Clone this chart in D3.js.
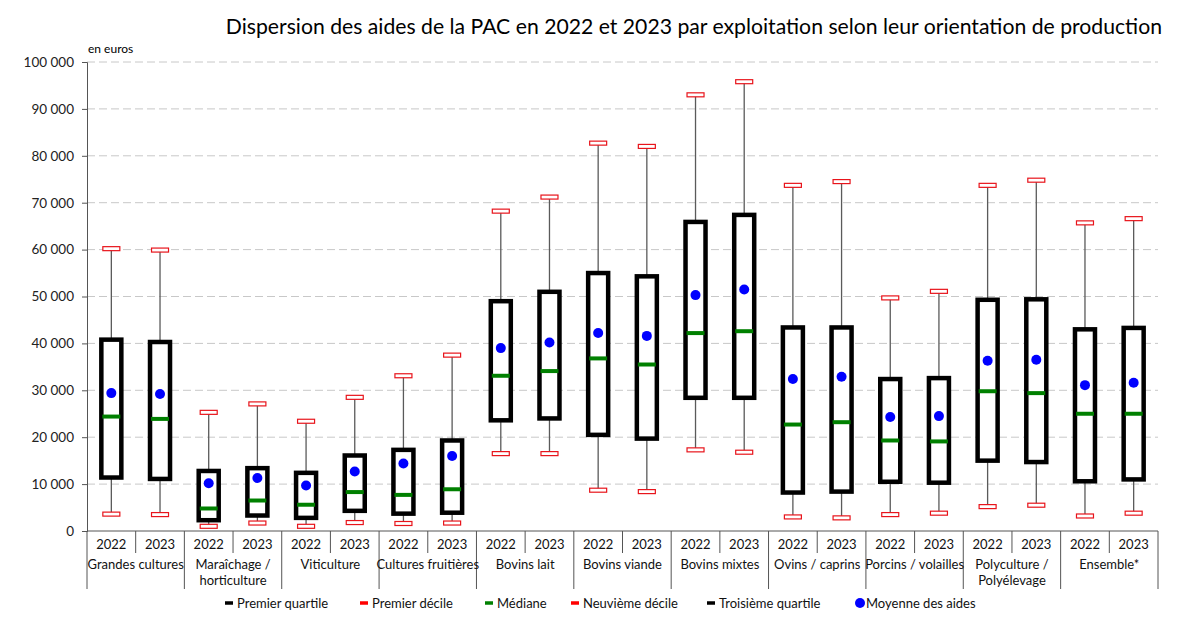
<!DOCTYPE html>
<html>
<head>
<meta charset="utf-8">
<script src="https://cdn.jsdelivr.net/npm/d3@7"></script>
<style>
  body { margin: 0; background: #fff; }
  svg { font-family: Lato, "Noto Sans", sans-serif; }
</style>
</head>
<body>
<svg id="chart" width="1200" height="627"></svg>
<script>
// categories (one entry per orientation, split in lines as on the chart)
var categories = [
    ["Grandes cultures"], ["Maraîchage /", "horticulture"], ["Viticulture"],
    ["Cultures fruitières"], ["Bovins lait"], ["Bovins viande"], ["Bovins mixtes"],
    ["Ovins / caprins"], ["Porcins / volailles"], ["Polyculture /", "Polyélevage"],
    ["Ensemble*"]
];
var years = ["2022", "2023"];

// values in euros, two per category (2022, 2023)
var premierDecile   = [3600, 3500, 1000, 1700, 1000, 1800, 1600, 1700, 16500, 16500, 8700, 8400, 17300, 16800, 3000, 2800, 3500, 3800, 5200, 5500, 3200, 3800];
var premierQuartile = [11400, 11100, 2300, 3300, 2800, 4300, 3700, 3900, 23600, 24000, 20500, 19700, 28400, 28400, 8200, 8400, 10500, 10300, 15000, 14700, 10600, 11000];
var mediane         = [24400, 23900, 4800, 6500, 5600, 8300, 7700, 8900, 33100, 34100, 36800, 35500, 42200, 42600, 22700, 23200, 19300, 19100, 29800, 29400, 25000, 25000];
var troisiemeQuartile = [40800, 40300, 12800, 13400, 12400, 16100, 17300, 19300, 49000, 51000, 55000, 54300, 65900, 67400, 43400, 43400, 32400, 32600, 49300, 49400, 43000, 43300];
var neuviemeDecile  = [60200, 59900, 25300, 27100, 23400, 28500, 33100, 37500, 68200, 71200, 82700, 82000, 93000, 95800, 73700, 74500, 49700, 51100, 73700, 74800, 65700, 66600];
var moyenne         = [29400, 29200, 10200, 11300, 9700, 12700, 14400, 16000, 39000, 40200, 42200, 41600, 50300, 51500, 32400, 32900, 24300, 24500, 36300, 36500, 31100, 31600];

var yTicks = [0, 10000, 20000, 30000, 40000, 50000, 60000, 70000, 80000, 90000, 100000];

var legendItems = [
    { label: "Premier quartile", color: "#000", type: "dash" },
    { label: "Premier décile", color: "#ff0000", type: "dash" },
    { label: "Médiane", color: "#008000", type: "dash" },
    { label: "Neuvième décile", color: "#ff0000", type: "dash" },
    { label: "Troisième quartile", color: "#000", type: "dash" },
    { label: "Moyenne des aides", color: "#0000ff", type: "dot" }
];
var legendX = [237, 372, 497, 583, 719, 866];

var svg = d3.select("#chart");
var plotLeft = 87, plotRight = 1158, plotTop = 62, plotBottom = 531;

// build rows
var rows = [];
for (var i = 0; i < categories.length; i++) {
    for (var j = 0; j < years.length; j++) {
        var k = i * 2 + j;
        rows.push({
            key: i + "-" + years[j], cat: i, year: years[j],
            d1: premierDecile[k], q1: premierQuartile[k], med: mediane[k],
            q3: troisiemeQuartile[k], d9: neuviemeDecile[k], mean: moyenne[k]
        });
    }
}

var x = d3.scaleBand().domain(rows.map(function (d) { return d.key; })).range([plotLeft, plotRight]);
var xCat = d3.scaleBand().domain(d3.range(categories.length)).range([plotLeft, plotRight]);
var y = d3.scaleLinear().domain([0, 100000]).range([plotBottom, plotTop]);
var fmt = function (v) { return d3.format(",")(v).replace(/,/g, " "); };

// title
svg.append("text").attr("x", 1162).attr("y", 34).attr("text-anchor", "end")
    .attr("font-size", 21.2).attr("fill", "#000")
    .text("Dispersion des aides de la PAC en 2022 et 2023 par exploitation selon leur orientation de production");

svg.append("text").attr("x", 88).attr("y", 53).attr("font-size", 12).text("en euros");

// gridlines
svg.append("g").selectAll("line").data(yTicks.slice(1)).join("line")
    .attr("x1", plotLeft).attr("x2", plotRight)
    .attr("y1", function (d) { return y(d); }).attr("y2", function (d) { return y(d); })
    .attr("stroke", "#c8c8c8").attr("stroke-dasharray", "8,4").attr("stroke-width", 1);

// y axis
var yAxis = svg.append("g").attr("transform", "translate(" + plotLeft + ",0)")
    .call(d3.axisLeft(y).tickValues(yTicks).tickFormat(fmt).tickSize(5).tickPadding(8));
yAxis.select(".domain").attr("stroke", "#555");
yAxis.selectAll(".tick line").attr("stroke", "#555");
yAxis.selectAll("text").attr("font-size", 13.5).attr("fill", "#222").attr("font-family", "Lato, sans-serif");

// x axis line and separators
svg.append("line").attr("x1", plotLeft).attr("x2", plotRight).attr("y1", plotBottom).attr("y2", plotBottom)
    .attr("stroke", "#555");
svg.append("g").selectAll("line").data(rows.filter(function (d) { return d.year === "2023"; })).join("line")
    .attr("x1", function (d) { return x(d.key); }).attr("x2", function (d) { return x(d.key); })
    .attr("y1", plotBottom).attr("y2", plotBottom + 22).attr("stroke", "#555");
svg.append("g").selectAll("line").data(d3.range(categories.length + 1)).join("line")
    .attr("x1", function (d) { return plotLeft + d * xCat.bandwidth(); })
    .attr("x2", function (d) { return plotLeft + d * xCat.bandwidth(); })
    .attr("y1", plotBottom).attr("y2", plotBottom + 58).attr("stroke", "#555");

svg.append("g").selectAll("text").data(rows).join("text")
    .attr("x", function (d) { return x(d.key) + x.bandwidth() / 2; })
    .attr("y", plotBottom + 18).attr("text-anchor", "middle").attr("font-size", 13).attr("fill", "#111")
    .text(function (d) { return d.year; });

var catG = svg.append("g").selectAll("text").data(categories).join("text")
    .attr("x", function (d, i) { return xCat(i) + xCat.bandwidth() / 2; })
    .attr("y", plotBottom + 38).attr("text-anchor", "middle").attr("font-size", 13).attr("fill", "#111");
catG.selectAll("tspan").data(function (d) { return d; }).join("tspan")
    .attr("x", function () { return d3.select(this.parentNode).attr("x"); })
    .attr("dy", function (d, i) { return i === 0 ? 0 : 16; })
    .text(function (d) { return d; });

// boxes
var boxW = 20, capW = 17, capH = 4, medW = 18;
var g = svg.append("g").selectAll("g").data(rows).join("g")
    .attr("transform", function (d) { return "translate(" + (x(d.key) + x.bandwidth() / 2) + ",0)"; });

g.append("line").attr("x1", 0).attr("x2", 0)
    .attr("y1", function (d) { return y(d.d1); }).attr("y2", function (d) { return y(d.d9); })
    .attr("stroke", "#5a5a5a").attr("stroke-width", 1.3);

g.append("rect").attr("x", -boxW / 2).attr("width", boxW)
    .attr("y", function (d) { return y(d.q3); })
    .attr("height", function (d) { return y(d.q1) - y(d.q3); })
    .attr("fill", "#fff").attr("stroke", "#000").attr("stroke-width", 4.5);

g.append("line").attr("x1", -medW / 2).attr("x2", medW / 2)
    .attr("y1", function (d) { return y(d.med); }).attr("y2", function (d) { return y(d.med); })
    .attr("stroke", "#008000").attr("stroke-width", 4);

["d1", "d9"].forEach(function (f) {
    g.append("rect").attr("x", -capW / 2).attr("width", capW)
        .attr("y", function (d) { return y(d[f]) - capH / 2; }).attr("height", capH)
        .attr("fill", "#fff").attr("stroke", "#e8141b").attr("stroke-width", 1.2);
});

g.append("circle").attr("cx", 0).attr("cy", function (d) { return y(d.mean); }).attr("r", 5)
    .attr("fill", "#0000ff");

// legend
var lg = svg.append("g").selectAll("g").data(legendItems).join("g")
    .attr("transform", function (d, i) { return "translate(" + legendX[i] + ",603)"; });
lg.each(function (d) {
    var s = d3.select(this);
    if (d.type === "dot") {
        s.append("circle").attr("cx", -6).attr("cy", 0).attr("r", 5).attr("fill", d.color);
    } else {
        s.append("line").attr("x1", -12).attr("x2", -4).attr("y1", 0).attr("y2", 0)
            .attr("stroke", d.color).attr("stroke-width", 3.5);
    }
});
lg.append("text").attr("x", 0).attr("y", 5).attr("font-size", 13).attr("fill", "#111")
    .text(function (d) { return d.label; });
</script>
</body>
</html>
